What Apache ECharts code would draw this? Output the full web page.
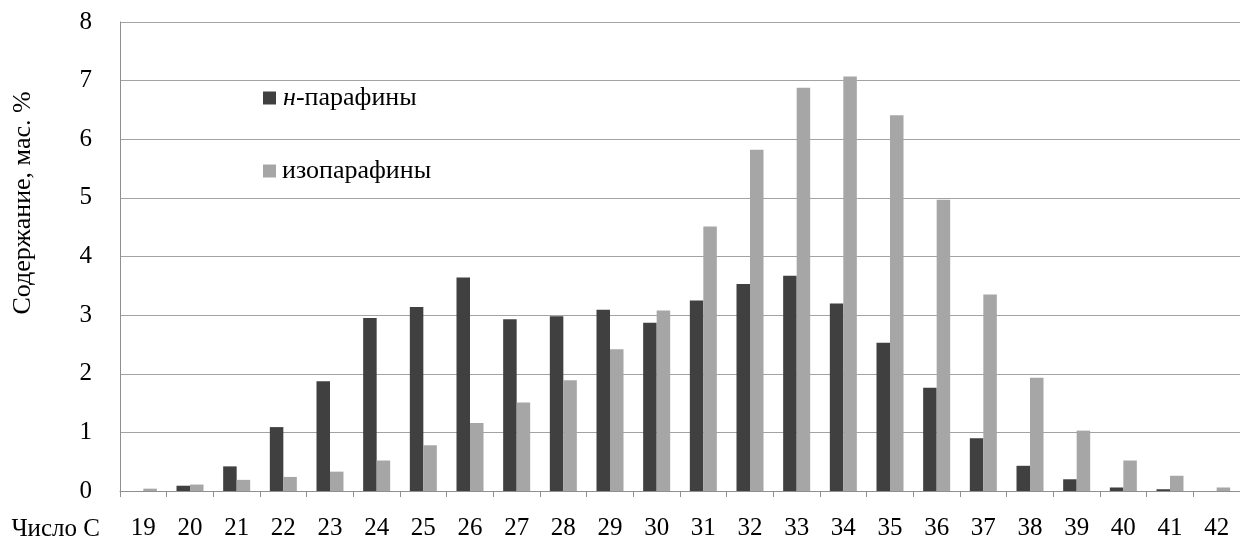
<!DOCTYPE html>
<html>
<head>
<meta charset="utf-8">
<script src="https://cdn.jsdelivr.net/npm/echarts@6/dist/echarts.min.js"></script>
<style>
  html, body { margin: 0; padding: 0; background: #fff; }
  #chart { width: 1240px; height: 543px; }
</style>
</head>
<body>
<div id="chart"></div>
<script>
  // число атомов углерода
  var categories = ['19', '20', '21', '22', '23', '24', '25', '26', '27', '28', '29', '30',
    '31', '32', '33', '34', '35', '36', '37', '38', '39', '40', '41', '42'];
  // н-парафины, мас. %
  var nParaffins = [0, 0.09, 0.42, 1.09, 1.87, 2.95, 3.14, 3.64, 2.93, 2.98, 3.09, 2.87,
    3.25, 3.53, 3.67, 3.20, 2.53, 1.76, 0.90, 0.43, 0.20, 0.06, 0.03, 0];
  // изопарафины, мас. %
  var isoParaffins = [0.04, 0.11, 0.19, 0.24, 0.33, 0.52, 0.78, 1.16, 1.51, 1.89, 2.42, 3.08,
    4.51, 5.82, 6.88, 7.07, 6.41, 4.97, 3.35, 1.93, 1.03, 0.52, 0.26, 0.06];
  var yTicks = [0, 1, 2, 3, 4, 5, 6, 7, 8];

  var font = "'Liberation Serif', 'Times New Roman', serif";
  var gridColor = '#a3a3a3';

  var chart = echarts.init(document.getElementById('chart'), null, { renderer: 'canvas' });

  var option = {
    backgroundColor: '#fff',
    animation: false,
    textStyle: { fontFamily: font, color: '#000' },
    grid: {
      left: 120,
      top: 22,
      width: 1127,
      bottom: 52,
      containLabel: false
    },
    legend: [
      {
        data: ['н-парафины'],
        orient: 'vertical',
        left: 263,
        top: 85,
        padding: 0,
        icon: 'rect',
        itemWidth: 13,
        itemHeight: 13,
        selectedMode: false,
        formatter: function (name) {
          return '{i|н}-парафины';
        },
        textStyle: {
          fontFamily: font,
          fontSize: 26,
          lineHeight: 26,
          color: '#000',
          padding: [0, 0, 0, 2],
          rich: {
            i: { fontFamily: font, fontSize: 26, lineHeight: 26, fontStyle: 'italic', color: '#000' }
          }
        }
      },
      {
        data: ['изопарафины'],
        orient: 'vertical',
        left: 263,
        top: 158,
        padding: 0,
        icon: 'rect',
        itemWidth: 13,
        itemHeight: 13,
        selectedMode: false,
        textStyle: {
          fontFamily: font,
          fontSize: 26,
          lineHeight: 26,
          color: '#000',
          padding: [0, 0, 0, 1]
        }
      }
    ],
    xAxis: {
      type: 'category',
      data: categories,
      boundaryGap: true,
      axisLine: { lineStyle: { color: '#8f8f8f', width: 1 } },
      axisTick: { show: true, length: 6, alignWithLabel: false, lineStyle: { color: '#8f8f8f' } },
      axisLabel: {
        interval: 0,
        margin: 25,
        fontFamily: font,
        fontSize: 25,
        color: '#000'
      }
    },
    yAxis: {
      type: 'value',
      min: yTicks[0],
      max: yTicks[yTicks.length - 1],
      interval: 1,
      axisLine: { show: true, lineStyle: { color: '#8f8f8f', width: 1 } },
      axisTick: { show: false },
      axisLabel: {
        margin: 28,
        fontFamily: font,
        fontSize: 25,
        color: '#000'
      },
      splitLine: { show: true, lineStyle: { color: gridColor, width: 1.2 } }
    },
    graphic: [
      {
        // подпись оси Y
        type: 'text',
        x: 23,
        y: 203,
        rotation: Math.PI / 2,
        style: {
          text: 'Содержание, мас. %',
          font: '26px ' + font,
          fill: '#000',
          align: 'center',
          verticalAlign: 'middle'
        }
      },
      {
        type: 'text',
        x: 100,
        y: 529,
        style: {
          text: 'Число С',
          font: '25px ' + font,
          fill: '#000',
          align: 'right',
          verticalAlign: 'middle'
        }
      }
    ],
    series: [
      {
        name: 'н-парафины',
        type: 'bar',
        data: nParaffins,
        barWidth: 13.5,
        barGap: '0%',
        itemStyle: { color: '#404040' }
      },
      {
        name: 'изопарафины',
        type: 'bar',
        data: isoParaffins,
        barWidth: 13.5,
        itemStyle: { color: '#a6a6a6' }
      }
    ]
  };

  chart.setOption(option);
</script>
</body>
</html>
